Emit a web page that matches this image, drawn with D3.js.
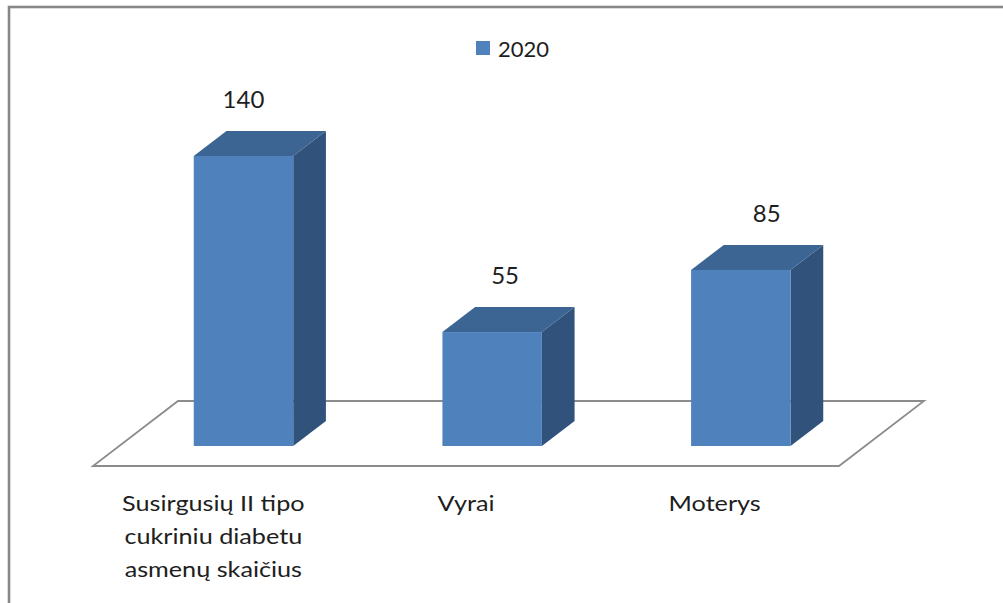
<!DOCTYPE html>
<html>
<head>
<meta charset="utf-8">
<script src="https://cdn.jsdelivr.net/npm/d3@7"></script>
<style>
  html, body { margin: 0; padding: 0; background: #fff; }
  svg { display: block; }
  text { font-family: Lato, "Open Sans", sans-serif; fill: #1e1e1e; }
</style>
</head>
<body>
<svg id="chart" width="1003" height="603"></svg>
<script>
// ---- data ----
const categories = ["Susirgusių II tipo cukriniu diabetu asmenų skaičius", "Vyrai", "Moterys"];
const categoryLines = [["Susirgusių II tipo", "cukriniu diabetu", "asmenų skaičius"], ["Vyrai"], ["Moterys"]];
const values2020 = [140, 55, 85];
const seriesName = "2020";

// ---- layout ----
const svg = d3.select("#chart");

const floorLeft = 93, floorRight = 839, floorFrontY = 466;
const DX = 85, DY = -65;           // floor depth vector
const f0 = 20 / 65, f1 = 45 / 65;  // bar front / back depth fractions

const x = d3.scaleBand().domain(categories).range([floorLeft, floorRight])
  .paddingInner(0.6).paddingOuter(0.3);
const h = d3.scaleLinear().domain([0, 140]).range([0, 290]);

const colFront = "#4f81bd", colTop = "#3c6594", colSide = "#30527b";

// outer border
svg.append("rect").attr("x", 9).attr("y", 7).attr("width", 1010).attr("height", 620)
  .attr("fill", "none").attr("stroke", "#878787").attr("stroke-width", 2.6);

// floor
const floorPts = [
  [floorLeft, floorFrontY], [floorRight, floorFrontY],
  [floorRight + DX, floorFrontY + DY], [floorLeft + DX, floorFrontY + DY]
];
svg.append("path").attr("d", d3.line()(floorPts) + "Z")
  .attr("fill", "#fff").attr("stroke", "#8c8c8c").attr("stroke-width", 1.8)
  .attr("stroke-linejoin", "miter");

// bars
const bw = x.bandwidth();
const dDX = (f1 - f0) * DX, dDY = (f1 - f0) * DY;
const baseY = floorFrontY + f0 * DY;
const firstCx = x(categories[0]) + f0 * DX + bw / 2;
const bars = svg.append("g");
categories.forEach((c, i) => {
  const v = values2020[i];
  const x0 = x(c) + f0 * DX, x1 = x0 + bw;
  const top = baseY - h(v);
  const g = bars.append("g");
  g.append("path").attr("d", d3.line()([[x1, baseY], [x1 + dDX, baseY + dDY], [x1 + dDX, top + dDY], [x1, top]]) + "Z")
    .attr("fill", colSide);
  g.append("path").attr("d", d3.line()([[x0, top], [x1, top], [x1 + dDX, top + dDY], [x0 + dDX, top + dDY]]) + "Z")
    .attr("fill", colTop);
  g.append("rect").attr("x", x0).attr("y", top).attr("width", bw).attr("height", h(v))
    .attr("fill", colFront);
  // value label
  const cx = x0 + bw / 2;
  g.append("text").attr("x", cx + (cx - firstCx) * 0.052).attr("y", top - 48)
    .attr("text-anchor", "middle").attr("font-size", 24).text(v);
});

// category labels (slightly wide face like the original)
categories.forEach((c, i) => {
  const cx = x(c) + bw / 2 - (i === 0 ? 4 : 0);
  const g = svg.append("g").attr("transform", `translate(${cx},511) scale(1.23,1)`);
  const t = g.append("text").attr("text-anchor", "middle").attr("font-size", 20.5);
  categoryLines[i].forEach((ln, j) => {
    t.append("tspan").attr("x", 0).attr("dy", j === 0 ? 0 : 33).text(ln);
  });
});

// legend
const lg = svg.append("g");
lg.append("rect").attr("x", 476).attr("y", 41).attr("width", 14).attr("height", 14).attr("fill", colFront);
lg.append("text").attr("x", 498).attr("y", 57).attr("font-size", 22).text(seriesName);
</script>
</body>
</html>
